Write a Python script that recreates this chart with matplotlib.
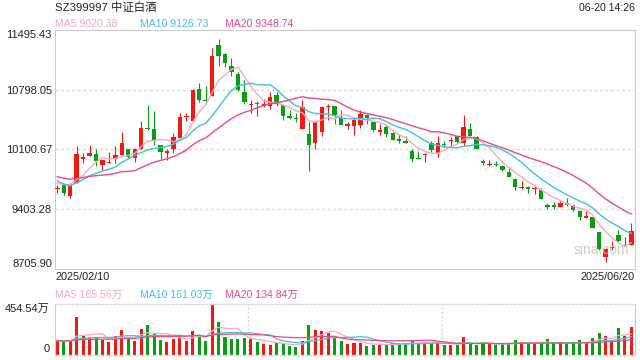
import matplotlib
matplotlib.use('Agg')
import matplotlib.pyplot as plt
import numpy as np

plt.rcParams['font.family'] = ['Liberation Sans', 'Noto Sans CJK SC']

# ---------------- data ----------------
title = "SZ399997 中证白酒"
timestamp = "06-20 14:26"
date_start = "2025/02/10"
date_end = "2025/06/20"
price_ticks = [11495.43, 10798.05, 10100.67, 9403.28, 8705.90]
price_tick_labels = ["11495.43", "10798.05", "10100.67", "9403.28", "8705.90"]
vol_max = 454.54
vol_tick_labels = ["454.54万", "0"]
ma_price_labels = ["MA5 9020.38", "MA10 9126.73", "MA20 9348.74"]
ma_vol_labels = ["MA5 185.56万", "MA10 161.03万", "MA20 134.84万"]
watermark = "sina.com"

opens = [9640, 9694, 9558, 9713, 9992, 10023, 10043, 9915, 9946, 9992,
         10031, 10112, 10004, 10101, 10349, 10345, 10151, 10069, 10101, 10236,
         10477, 10430, 10806, 10682, 10721, 11321, 11216, 11077, 10984, 10767,
         10620, 10647, 10612, 10612, 10736, 10620, 10484, 10469, 10345, 10287,
         10171, 10310, 10600, 10612, 10473, 10372, 10380, 10384, 10507, 10422,
         10302, 10364, 10295, 10217, 10205, 10081, 9999, 10039, 10171, 10062,
         10163, 10202, 10256, 10178, 10341, 10248, 9961, 9922, 9930, 9907,
         9837, 9752, 9651, 9659, 9640, 9628, 9446, 9446, 9434, 9469,
         9450, 9388, 9303, 9318, 9140, 8842, 8954, 9101, 8973, 8985]
highs = [9682, 9713, 9713, 10140, 10062, 10159, 10112, 9977, 10070, 10147,
         10302, 10112, 10120, 10430, 10624, 10546, 10159, 10101, 10294, 10527,
         10527, 10806, 10876, 10845, 11282, 11387, 11232, 11166, 11000, 10907,
         10674, 10663, 10689, 10767, 10767, 10635, 10566, 10527, 10674, 10418,
         10426, 10612, 10628, 10612, 10558, 10418, 10469, 10566, 10519, 10422,
         10399, 10391, 10302, 10287, 10264, 10109, 10081, 10062, 10198, 10256,
         10198, 10248, 10264, 10500, 10411, 10264, 9985, 9973, 9965, 9915,
         9899, 9772, 9733, 9675, 9690, 9655, 9473, 9488, 9496, 9535,
         9458, 9396, 9384, 9326, 9140, 8954, 9032, 9159, 9074, 9248]
lows = [9589, 9566, 9539, 9713, 9946, 10023, 9907, 9861, 9938, 9938,
        10031, 10004, 9954, 10101, 10333, 10159, 9985, 9977, 10062, 10236,
        10430, 10430, 10651, 10635, 10721, 11077, 11062, 10961, 10779, 10635,
        10527, 10496, 10597, 10573, 10604, 10442, 10457, 10418, 10345, 9849,
        10112, 10264, 10450, 10403, 10391, 10341, 10275, 10353, 10403, 10302,
        10275, 10248, 10209, 10178, 10171, 9954, 9985, 9954, 10070, 10012,
        10132, 10147, 10178, 10147, 10264, 10112, 9915, 9907, 9907, 9845,
        9779, 9628, 9644, 9589, 9585, 9527, 9403, 9403, 9427, 9442,
        9384, 9272, 9303, 9179, 8931, 8791, 8931, 9016, 8969, 8985]
closes = [9646, 9597, 9694, 10043, 10012, 10054, 9965, 9973, 9952, 10031,
          10178, 10016, 10101, 10353, 10341, 10217, 10074, 10077, 10248, 10480,
          10496, 10798, 10682, 10666, 11193, 11193, 11116, 11011, 10798, 10651,
          10628, 10635, 10628, 10713, 10635, 10488, 10473, 10457, 10597, 10159,
          10418, 10597, 10608, 10507, 10391, 10403, 10442, 10519, 10469, 10325,
          10325, 10287, 10217, 10202, 10171, 9985, 9992, 10047, 10093, 10171,
          10155, 10209, 10186, 10364, 10264, 10112, 9950, 9930, 9922, 9861,
          9779, 9667, 9659, 9644, 9648, 9527, 9438, 9434, 9477, 9458,
          9396, 9310, 9326, 9187, 8939, 8939, 8962, 9032, 8981, 9155]
volumes = [133, 118, 118, 336, 164, 152, 156, 128, 109, 170,
           224, 139, 125, 233, 270, 188, 133, 109, 143, 179,
           125, 209, 161, 121, 450, 297, 161, 139, 139, 148,
           142, 115, 94, 88, 103, 100, 76, 67, 121, 270,
           224, 215, 197, 153, 125, 97, 106, 103, 79, 88,
           88, 92, 100, 91, 100, 130, 100, 112, 106, 112,
           82, 82, 82, 161, 91, 82, 115, 91, 82, 100,
           91, 127, 115, 100, 106, 100, 136, 100, 106, 91,
           106, 127, 106, 145, 191, 167, 121, 236, 167, 248]
# closes / volumes of the 19 sessions before the window
prior_closes = [9950, 9900, 9870, 9820, 9780, 9800, 9850, 9790, 9760, 9810,
                9950, 9920, 9660, 9640, 9634, 9672, 9694, 9757, 9758]
prior_volumes = [118, 125, 132, 110, 121, 128, 116, 135, 122, 119,
                 127, 113, 124, 130, 117, 121, 126, 115, 123]

# ---------------- styles ----------------
RED = '#f21a10'
GREEN = '#0a9c14'
C_MA5 = '#f8a9c1'
C_MA10 = '#3fc2df'
C_MA20 = '#ee4d7b'
GRID = '#d8d8d8'
FRAME = '#cccccc'
W, H = 640, 360


def ma(series, prior, n):
    full = np.array(list(prior) + list(series), float)
    out = np.convolve(full, np.ones(n) / n, mode='valid')
    return out[-len(series):]


o = np.array(opens, float)
h = np.array(highs, float)
l = np.array(lows, float)
c = np.array(closes, float)
v = np.array(volumes, float)
x = np.arange(len(c))
up = c >= o
cols = np.where(up, RED, GREEN)

fig = plt.figure(figsize=(6.4, 3.6), dpi=100)


def px_axes(left, top, right, bottom):
    return fig.add_axes([left / W, 1 - bottom / H, (right - left) / W, (bottom - top) / H])


ax = px_axes(55, 30, 635, 269)
axv = px_axes(55, 304.3, 635, 354.5)

xlim = (-0.36, 89.57)
ymin, ymax = price_ticks[-1], price_ticks[0]

# ---- price panel ----
ax.set_xlim(*xlim)
ax.set_ylim(ymin, ymax)
ppx = (ymax - ymin) / 239.0
for yv in price_ticks[1:-1]:
    ax.axhline(yv, color=GRID, lw=1.0, ls=(0, (2.0, 2.0)), zorder=0)

ax.vlines(x, l, h, colors=cols, lw=0.8, zorder=2)
bh = np.maximum(np.abs(c - o), 1.4 * ppx)
mid = (c + o) / 2
ax.bar(x, bh, bottom=mid - bh / 2, width=0.68, color=cols, lw=0, zorder=3)

ax.plot(x, ma(c, prior_closes, 5), color=C_MA5, lw=1.0, zorder=4)
ax.plot(x, ma(c, prior_closes, 10), color=C_MA10, lw=1.0, zorder=4)
ax.plot(x, ma(c, prior_closes, 20), color=C_MA20, lw=1.0, zorder=4)

ax.set_xticks([])
ax.set_yticks(price_ticks)
ax.set_yticklabels(price_tick_labels, fontsize=8, color='#222222')
ax.tick_params(axis='y', length=0, pad=2.2)
tl = ax.get_yticklabels()
tl[0].set_verticalalignment('top')
tl[-1].set_verticalalignment('bottom')
for s in ax.spines.values():
    s.set_color(FRAME)
    s.set_linewidth(0.8)

ax.text(0.943, 0.08, watermark, transform=ax.transAxes, fontsize=10,
        color='#c4c4c4', ha='center', va='center', alpha=0.85, zorder=5)

# ---- volume panel ----
axv.set_xlim(*xlim)
axv.set_ylim(0, vol_max)
axv.bar(x, v, width=0.47, color=cols, lw=0, zorder=2)
axv.plot(x, ma(v, prior_volumes, 5), color=C_MA5, lw=0.9, zorder=3)
axv.plot(x, ma(v, prior_volumes, 10), color=C_MA10, lw=0.9, zorder=3)
axv.plot(x, ma(v, prior_volumes, 20), color=C_MA20, lw=0.9, zorder=3)
for fx in (1 / 3, 2 / 3):
    axv.plot([fx, fx], [0, 1], transform=axv.transAxes, color=GRID,
             lw=1.0, ls=(0, (1.5, 1.5)), zorder=1)
axv.set_xticks([])
axv.set_yticks([vol_max, 0])
axv.set_yticklabels(vol_tick_labels, fontsize=8, color='#222222')
axv.tick_params(axis='y', length=0, pad=4)
vl = axv.get_yticklabels()
vl[0].set_verticalalignment('top')
vl[1].set_verticalalignment('bottom')
for side in ('left', 'right'):
    axv.spines[side].set_color(FRAME)
    axv.spines[side].set_linewidth(0.8)
for side in ('top', 'bottom'):
    axv.spines[side].set_color(GRID)
    axv.spines[side].set_linewidth(1.0)
    axv.spines[side].set_linestyle((0, (1.5, 1.5)))


# ---- texts ----
def ftext(px, py, s, **kw):
    fig.text(px / W, 1 - py / H, s, va='center', **kw)


ftext(55, 8, title, fontsize=8.2, color='#222222')
ftext(635, 8, timestamp, fontsize=7.6, color='#222222', ha='right')
for px, s, col in zip((55, 140, 225), ma_price_labels, (C_MA5, C_MA10, C_MA20)):
    ftext(px, 24, s, fontsize=7.6, color=col)
ftext(55, 277, date_start, fontsize=7.8, color='#222222')
ftext(635, 277, date_end, fontsize=7.8, color='#222222', ha='right')
for px, s, col in zip((55, 140, 225), ma_vol_labels, (C_MA5, C_MA10, C_MA20)):
    ftext(px, 295, s, fontsize=7.6, color=col)

fig.savefig('out.png', dpi=100, facecolor='white')
